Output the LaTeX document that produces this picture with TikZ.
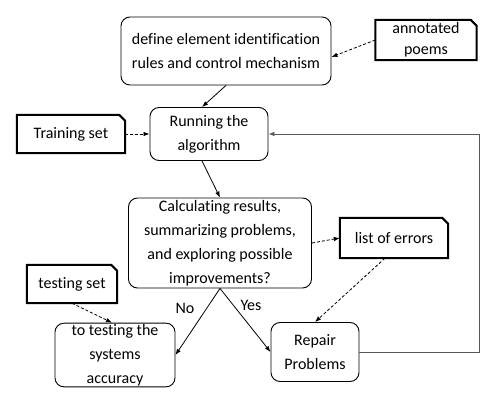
\documentclass[tikz,border=0pt]{standalone}
\usepackage{fontspec}
\setmainfont[RawFeature=-liga]{Carlito}
\usetikzlibrary{arrows.meta}
\tikzset{
  stepbox/.style={draw, line width=0.9pt, rounded corners=9pt, align=center, inner sep=1pt},
  databox/.style={align=center, inner sep=1pt},
  flow/.style={-{Latex[length=6pt,width=4.5pt]}, line width=0.8pt},
  feed/.style={-{Latex[length=6pt,width=4.5pt]}, line width=0.8pt, densely dashed},
}
\begin{document}
\begin{tikzpicture}[x=1pt,y=-1pt,font=\fontsize{16}{24}\selectfont]
\useasboundingbox (0,0) rectangle (500,409);
% process steps
\node[stepbox, minimum width=210, minimum height=68] (define) at (226,51) {define element identification\\rules and control mechanism};
\node[stepbox, minimum width=118, minimum height=53] (run) at (209,134) {Running the\\algorithm};
\node[stepbox, minimum width=183, minimum height=90] (calc) at (220,243) {Calculating results,\\summarizing problems,\\and exploring possible\\improvements?};
\node[stepbox, minimum width=120, minimum height=59] (accuracy) at (115,355) {to testing the\\systems\\accuracy};
\node[stepbox, minimum width=88, minimum height=59] (repair) at (315,352) {Repair\\Problems};
% data sets
\node[databox, minimum width=101, minimum height=40, font=\fontsize{16}{21}\selectfont, inner sep=0pt] (poems) at (426,40) {annotated\\poems};
\node[databox, minimum width=108, minimum height=38] (train) at (71,134) {Training set};
\node[databox, minimum width=108, minimum height=40] (errors) at (394,238) {list of errors};
\node[databox, minimum width=90, minimum height=38] (tset) at (72,284) {testing set};
\foreach \d in {poems,train,errors,tset}
  \draw[line width=2pt, line join=miter] (\d.south west) -- (\d.north west) -- ([xshift=-6]\d.north east) -- ([yshift=-6]\d.north east) -- (\d.south east) -- cycle;
% connectors
\draw[feed] (poems.west) -- ([yshift=-6]define.east);
\draw[flow] (define.south) -- ([xshift=-7]run.north);
\draw[feed] (train.east) -- (run.west);
\draw[flow] ([xshift=-7]run.south) -- (calc.north);
\draw[feed] (calc.east) -- (errors.west);
\draw[feed] ([xshift=-9]errors.south) -- (repair.north);
\draw[feed] (tset.south) -- ([xshift=-3]accuracy.north);
\draw[flow] (calc.south) -- (accuracy.east);
\draw[flow] (calc.south) -- (repair.west);
\node (no) at (185,308) {No};
\node (yes) at (251,305) {Yes};
\draw[flow, black!65] (repair.east) -- ++(120,0) |- (run.east);
\end{tikzpicture}
\end{document}
